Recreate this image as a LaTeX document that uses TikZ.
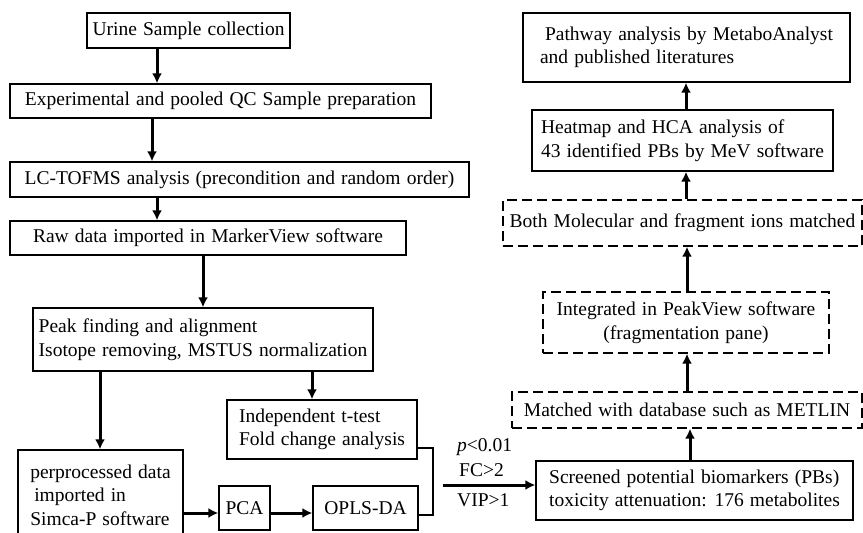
\documentclass[tikz,border=0pt]{standalone}
\usepackage{fontspec}
\setmainfont[WordSpace={1.25,1,1}]{Liberation Serif}
\usetikzlibrary{arrows.meta}
\tikzset{
  >={Latex[length=10pt,width=10pt]}, % filled arrow heads
  proc/.style={draw=black, line width=1.3pt, inner xsep=3pt, inner ysep=2pt, align=left,
    font=\fontsize{19.5}{23.5}\selectfont},
  proc dashed/.style={proc, dash pattern=on 10pt off 5pt},
  connect arrow/.style={->, line width=3pt},
  connect/.style={line width=2.4pt},
  annot/.style={anchor=west, inner sep=0pt, font=\fontsize{19.5}{23.5}\selectfont}
}

\begin{document}
\begin{tikzpicture}[x=1pt, y=-1pt]

\useasboundingbox (0,0) rectangle (863,533);

% Left column
\node[proc, minimum width=203, minimum height=35] (urine) at (188.5,30.5) {Urine Sample collection};
\node[proc, minimum width=421, minimum height=34] (exp) at (220.5,101) {Experimental and pooled QC Sample preparation};
\node[proc, minimum width=459, minimum height=35] (lc) at (239.5,179.5) {LC-TOFMS analysis (precondition and random order)};
\node[proc, minimum width=396, minimum height=34] (raw) at (208,238) {Raw data imported in MarkerView software};
\node[proc, minimum width=340, minimum height=63] (peak) at (203,339.5) {Peak finding and alignment\\Isotope removing, MSTUS normalization};

% Statistics
\node[proc, minimum width=165, minimum height=90] (pre) at (100.5,495) {perprocessed data\\\hspace*{4pt}imported in\\Simca-P software};
\node[proc, minimum width=190, minimum height=59] (indep) at (322,429.5) {Independent t-test\\Fold change analysis};
\node[proc, minimum width=51, minimum height=44] (pca) at (244.5,508) {PCA};
\node[proc, minimum width=105, minimum height=44] (opls) at (365.5,508) {OPLS-DA};

% Right column
\node[proc, minimum width=317, minimum height=59] (screen) at (694.5,490.5) {Screened potential biomarkers (PBs)\\toxicity attenuation: 176 metabolites};
\node[proc dashed, minimum width=350, minimum height=36] (match) at (687,410) {Matched with database such as METLIN};
\node[proc dashed, minimum width=286, minimum height=61, align=center] (integ) at (686,322.5) {Integrated in PeakView software\\(fragmentation pane)};
\node[proc dashed, minimum width=359, minimum height=46] (both) at (682.5,223) {Both Molecular and fragment ions matched};
\node[proc, minimum width=301, minimum height=61] (heat) at (682.5,140.5) {Heatmap and HCA analysis of\\43 identified PBs by MeV software};
\node[proc, minimum width=327, minimum height=69] (path) at (686.5,47.5) {\hspace*{5pt}Pathway analysis by MetaboAnalyst\\and published literatures};

% Fleches verticales
\foreach \a/\b/\x in {urine/exp/157, exp/lc/152, lc/raw/157, raw/peak/203, peak/pre/100, peak/indep/312}
  \draw[connect arrow] (\x,0 |- \a.south) -- (\x,0 |- \b.north);
\foreach \a/\b/\x in {screen/match/690, match/integ/687, integ/both/687, both/heat/686, heat/path/686}
  \draw[connect arrow] (\x,0 |- \a.north) -- (\x,0 |- \b.south);

% Fleches horizontales
\draw[connect arrow] (pre.east |- 0,513) -- (pca.west |- 0,513);
\draw[connect arrow] (pca.east |- 0,513) -- (opls.west |- 0,513);

% Accolade et criteres
\draw[connect] (indep.east |- 0,448) -- (433,448) -- (433,515) -- (opls.east |- 0,515);
\coordinate (fork) at (443,485);
\draw[connect arrow] (fork) -- (fork -| screen.west);
\node[annot] (pval) at (457,447) {\textit{p}<0.01};
\node[annot] (fc) at (459,470) {FC>2};
\node[annot] (vip) at (457,500) {VIP>1};

\end{tikzpicture}
\end{document}
